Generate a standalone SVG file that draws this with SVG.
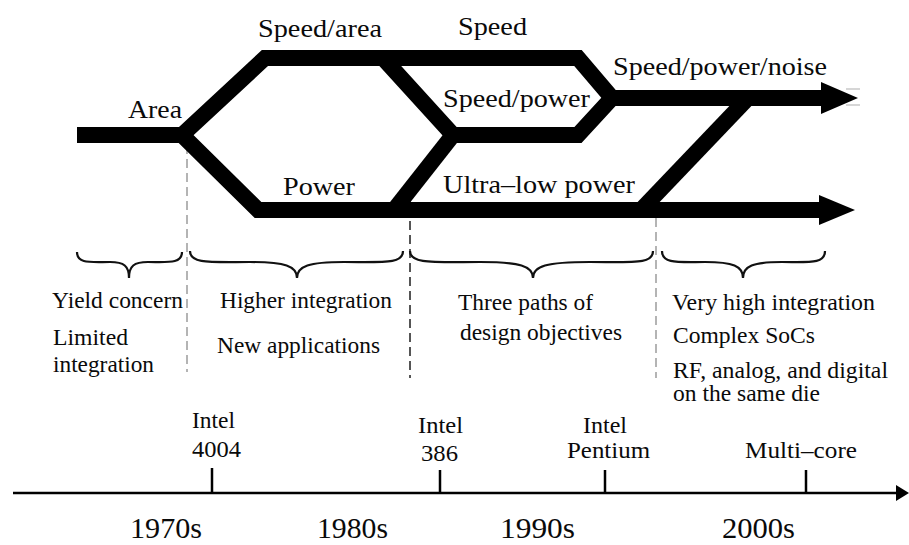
<svg xmlns="http://www.w3.org/2000/svg" width="909" height="545" viewBox="0 0 909 545">
  <style>
    .route { fill: none; stroke: #000; stroke-width: 16; stroke-linejoin: miter; stroke-miterlimit: 10; stroke-linecap: butt; }
    .head { fill: #000; }
    .lbl { fill: #0a0a0a; font-family: "Liberation Serif", "Times New Roman", Times, serif; }
    .top { font-size: 26px; }
    .note { font-size: 23px; }
    .chip { font-size: 23px; }
    .dec { font-size: 29px; }
    .brace { fill: none; stroke: #111; stroke-width: 2.2; }
    .dash-light { stroke: #b4b4b4; stroke-width: 2; stroke-dasharray: 9 5; fill: none; }
    .dash-dark { stroke: #555; stroke-width: 2; stroke-dasharray: 9 5; fill: none; }
    .axis { stroke: #000; stroke-width: 2.5; fill: none; }
  </style>
  <rect width="909" height="545" fill="#fff"/>

  <!-- era separators -->
  <g id="separators">
    <line class="dash-light" x1="187" y1="145" x2="187" y2="372"/>
    <line class="dash-dark" x1="410" y1="193" x2="410" y2="378"/>
    <line class="dash-light" x1="656" y1="218" x2="656" y2="378"/>
  </g>

  <!-- design objective routes -->
  <g id="connectors">
    <polyline class="route" points="77,135 182,135 265,58 578,58 612,98 822,98"/>
    <polyline class="route" points="182,135 258,210 820,210"/>
    <polyline class="route" points="383,58 453,135 578,135 612,98"/>
    <line class="route" x1="453" y1="135" x2="394" y2="210"/>
    <line class="route" x1="641" y1="210" x2="748" y2="98"/>
    <polygon class="head" points="821,82 858,98 821,114"/>
    <polygon class="head" points="819,195 855,210 819,225"/>
    <line x1="846" y1="89" x2="860" y2="89" stroke="#c8c8c8" stroke-width="1.5"/>
    <line x1="846" y1="105" x2="860" y2="105" stroke="#c8c8c8" stroke-width="1.5"/>
  </g>

  <!-- route labels -->
  <g id="route-labels" class="lbl top">
    <text id="area" x="128" y="118" textLength="54" lengthAdjust="spacingAndGlyphs">Area</text>
    <text id="speed-area" x="258" y="37" textLength="124" lengthAdjust="spacingAndGlyphs">Speed/area</text>
    <text id="speed" x="458" y="35" textLength="69" lengthAdjust="spacingAndGlyphs">Speed</text>
    <text id="speed-power-noise" x="613" y="75" textLength="214" lengthAdjust="spacingAndGlyphs">Speed/power/noise</text>
    <text id="speed-power" x="443" y="107" textLength="147" lengthAdjust="spacingAndGlyphs">Speed/power</text>
    <text id="power" x="283" y="195" textLength="72" lengthAdjust="spacingAndGlyphs">Power</text>
    <text id="ultra-low" x="443" y="193" textLength="192" lengthAdjust="spacingAndGlyphs">Ultra–low power</text>
  </g>

  <!-- era braces -->
  <g id="braces">
    <path class="brace" d="M77,252 C77,264 90,262 110,262 C124,262 129,266 129,278 C129,266 134,262 148,262 C168,262 182,264 182,252"/>
    <path class="brace" d="M190,251 C190,264 210,262 250,262 C285,262 297,266 297,278 C297,266 309,262 344,262 C385,262 403,264 403,251"/>
    <path class="brace" d="M410,251 C410,264 432,262 480,262 C520,262 533,266 533,278 C533,266 546,262 590,262 C636,262 653,264 653,251"/>
    <path class="brace" d="M662,251 C662,264 678,262 705,262 C733,262 743,266 743,278 C743,266 753,262 782,262 C810,262 825,264 825,251"/>
  </g>

  <!-- era descriptions -->
  <g id="era-1970s" class="lbl note">
    <text x="52" y="308" textLength="131" lengthAdjust="spacingAndGlyphs">Yield concern</text>
    <text x="53" y="345" textLength="75" lengthAdjust="spacingAndGlyphs">Limited</text>
    <text x="53" y="372" textLength="101" lengthAdjust="spacingAndGlyphs">integration</text>
  </g>
  <g id="era-1980s" class="lbl note">
    <text x="220" y="308" textLength="172" lengthAdjust="spacingAndGlyphs">Higher integration</text>
    <text x="217" y="353" textLength="163" lengthAdjust="spacingAndGlyphs">New applications</text>
  </g>
  <g id="era-1990s" class="lbl note">
    <text x="458" y="310" textLength="135" lengthAdjust="spacingAndGlyphs">Three paths of</text>
    <text x="460" y="340" textLength="162" lengthAdjust="spacingAndGlyphs">design objectives</text>
  </g>
  <g id="era-2000s" class="lbl note">
    <text x="672" y="310" textLength="203" lengthAdjust="spacingAndGlyphs">Very high integration</text>
    <text x="673" y="343" textLength="142" lengthAdjust="spacingAndGlyphs">Complex SoCs</text>
    <text x="673" y="378" textLength="215" lengthAdjust="spacingAndGlyphs">RF, analog, and digital</text>
    <text x="673" y="401" textLength="147" lengthAdjust="spacingAndGlyphs">on the same die</text>
  </g>

  <!-- time axis -->
  <g id="timeline">
    <line class="axis" x1="13" y1="493" x2="898" y2="493"/>
    <polygon class="head" points="896,485 909,493 896,501"/>
    <line class="axis" x1="212" y1="468" x2="212" y2="493"/>
    <line class="axis" x1="440" y1="470" x2="440" y2="493"/>
    <line class="axis" x1="605" y1="470" x2="605" y2="493"/>
    <line class="axis" x1="806" y1="470" x2="806" y2="493"/>
  </g>

  <g id="intel-4004" class="lbl chip">
    <text x="192" y="428" textLength="43" lengthAdjust="spacingAndGlyphs">Intel</text>
    <text x="192" y="457" textLength="49" lengthAdjust="spacingAndGlyphs">4004</text>
  </g>
  <g id="intel-386" class="lbl chip">
    <text x="418" y="433" textLength="45" lengthAdjust="spacingAndGlyphs">Intel</text>
    <text x="421" y="461" textLength="37" lengthAdjust="spacingAndGlyphs">386</text>
  </g>
  <g id="intel-pentium" class="lbl chip">
    <text x="583" y="433" textLength="44" lengthAdjust="spacingAndGlyphs">Intel</text>
    <text x="567" y="458" textLength="83" lengthAdjust="spacingAndGlyphs">Pentium</text>
  </g>
  <g id="multi-core" class="lbl chip">
    <text x="745" y="458" textLength="112" lengthAdjust="spacingAndGlyphs">Multi–core</text>
  </g>

  <g id="decades" class="lbl dec">
    <text x="130" y="538" textLength="72" lengthAdjust="spacingAndGlyphs">1970s</text>
    <text x="317" y="538" textLength="71" lengthAdjust="spacingAndGlyphs">1980s</text>
    <text x="500" y="538" textLength="75" lengthAdjust="spacingAndGlyphs">1990s</text>
    <text x="722" y="538" textLength="73" lengthAdjust="spacingAndGlyphs">2000s</text>
  </g>
</svg>
